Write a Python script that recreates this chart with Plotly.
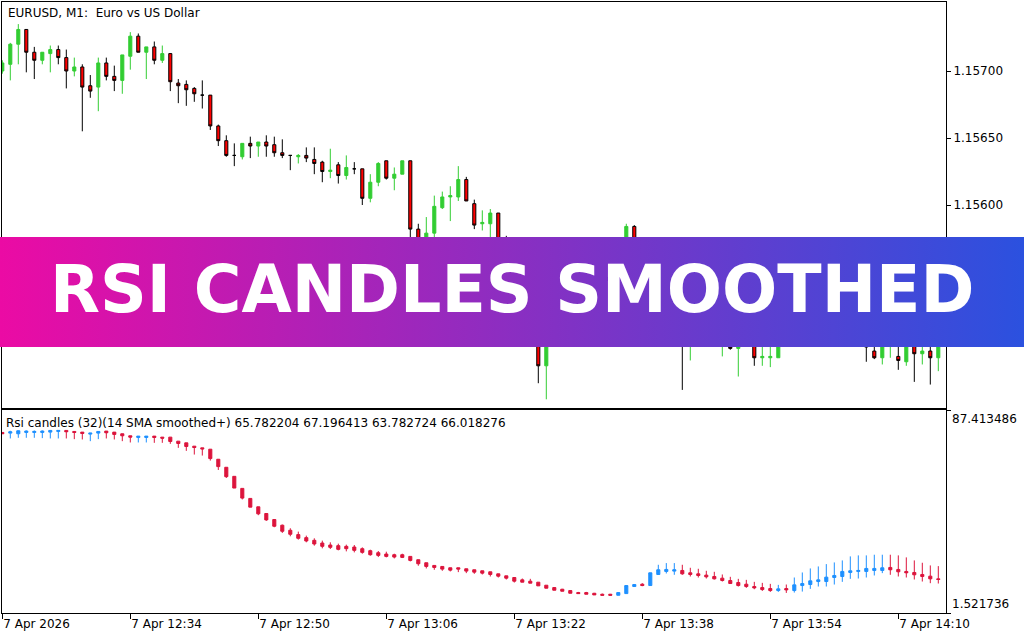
import base64
import pandas as pd
import plotly.graph_objects as go

# ---------------- data ----------------
times = pd.date_range("2026-04-07 12:18", periods=118, freq="min")

price_open = [1.15700, 1.15705, 1.15720, 1.15731, 1.15714, 1.15708, 1.15713, 1.15716, 1.15710, 1.15700,
              1.15703, 1.15689, 1.15688, 1.15706, 1.15696, 1.15693, 1.15711, 1.15726, 1.15714, 1.15718,
              1.15708, 1.15713, 1.15691, 1.15690, 1.15687, 1.15682, 1.15682, 1.15659, 1.15648, 1.15637,
              1.15636, 1.15646, 1.15644, 1.15647, 1.15645, 1.15639, 1.15637, 1.15636, 1.15637, 1.15634,
              1.15632, 1.15625, 1.15630, 1.15622, 1.15627, 1.15627, 1.15605, 1.15617, 1.15633, 1.15620,
              1.15623, 1.15633, 1.15582, 1.15563, 1.15579, 1.15598, 1.15606, 1.15606, 1.15619, 1.15601,
              1.15586, 1.15586, 1.15594, 1.15574, 1.15557, 1.15529, 1.15507, 1.15499, 1.15480, 1.15522,
              1.15537, 1.15528, 1.15545, 1.15552, 1.15546, 1.15558, 1.15563, 1.15556, 1.15568, 1.15584,
              1.15560, 1.15545, 1.15550, 1.15530, 1.15515, 1.15521, 1.15500, 1.15515, 1.15525, 1.15512,
              1.15520, 1.15525, 1.15493, 1.15512, 1.15505, 1.15486, 1.15486, 1.15486, 1.15498, 1.15508,
              1.15516, 1.15510, 1.15525, 1.15535, 1.15522, 1.15538, 1.15528, 1.15540, 1.15520, 1.15491,
              1.15486, 1.15495, 1.15487, 1.15483, 1.15500, 1.15489, 1.15491, 1.15486]
price_high = [1.15708, 1.15721, 1.15735, 1.15731, 1.15718, 1.15714, 1.15719, 1.15719, 1.15716, 1.15710,
              1.15705, 1.15697, 1.15710, 1.15710, 1.15704, 1.15712, 1.15729, 1.15728, 1.15718, 1.15722,
              1.15719, 1.15713, 1.15694, 1.15693, 1.15688, 1.15693, 1.15682, 1.15660, 1.15652, 1.15646,
              1.15646, 1.15651, 1.15647, 1.15652, 1.15651, 1.15649, 1.15637, 1.15638, 1.15643, 1.15643,
              1.15633, 1.15642, 1.15632, 1.15637, 1.15632, 1.15627, 1.15623, 1.15632, 1.15633, 1.15628,
              1.15633, 1.15633, 1.15586, 1.15591, 1.15607, 1.15610, 1.15614, 1.15629, 1.15621, 1.15604,
              1.15596, 1.15597, 1.15594, 1.15577, 1.15560, 1.15533, 1.15512, 1.15507, 1.15529, 1.15540,
              1.15542, 1.15549, 1.15556, 1.15557, 1.15561, 1.15566, 1.15567, 1.15572, 1.15586, 1.15585,
              1.15563, 1.15555, 1.15553, 1.15534, 1.15526, 1.15524, 1.15519, 1.15530, 1.15528, 1.15524,
              1.15533, 1.15528, 1.15516, 1.15515, 1.15508, 1.15497, 1.15496, 1.15502, 1.15512, 1.15524,
              1.15530, 1.15535, 1.15545, 1.15540, 1.15548, 1.15545, 1.15550, 1.15546, 1.15524, 1.15500,
              1.15510, 1.15506, 1.15510, 1.15504, 1.15506, 1.15498, 1.15497, 1.15502]
price_low = [1.15698, 1.15693, 1.15705, 1.15699, 1.15694, 1.15705, 1.15699, 1.15705, 1.15687, 1.15696,
             1.15655, 1.15680, 1.15670, 1.15693, 1.15685, 1.15683, 1.15701, 1.15714, 1.15694, 1.15705,
             1.15706, 1.15685, 1.15676, 1.15674, 1.15677, 1.15672, 1.15656, 1.15644, 1.15636, 1.15629,
             1.15634, 1.15635, 1.15636, 1.15636, 1.15636, 1.15635, 1.15626, 1.15631, 1.15632, 1.15623,
             1.15617, 1.15620, 1.15616, 1.15619, 1.15623, 1.15600, 1.15602, 1.15614, 1.15619, 1.15611,
             1.15623, 1.15570, 1.15557, 1.15557, 1.15574, 1.15597, 1.15588, 1.15603, 1.15603, 1.15582,
             1.15581, 1.15566, 1.15557, 1.15550, 1.15525, 1.15501, 1.15496, 1.15467, 1.15455, 1.15516,
             1.15523, 1.15525, 1.15540, 1.15541, 1.15543, 1.15553, 1.15552, 1.15553, 1.15565, 1.15555,
             1.15541, 1.15538, 1.15526, 1.15510, 1.15508, 1.15462, 1.15484, 1.15505, 1.15508, 1.15503,
             1.15487, 1.15492, 1.15472, 1.15500, 1.15480, 1.15480, 1.15479, 1.15486, 1.15495, 1.15504,
             1.15505, 1.15507, 1.15520, 1.15515, 1.15518, 1.15520, 1.15522, 1.15512, 1.15483, 1.15485,
             1.15481, 1.15486, 1.15477, 1.15480, 1.15468, 1.15481, 1.15466, 1.15476]
price_close = [1.15706, 1.15720, 1.15731, 1.15714, 1.15708, 1.15714, 1.15716, 1.15710, 1.15700, 1.15703,
               1.15688, 1.15685, 1.15706, 1.15696, 1.15693, 1.15712, 1.15726, 1.15714, 1.15718, 1.15708,
               1.15713, 1.15692, 1.15689, 1.15686, 1.15683, 1.15682, 1.15659, 1.15648, 1.15637, 1.15637,
               1.15646, 1.15644, 1.15647, 1.15644, 1.15639, 1.15637, 1.15637, 1.15637, 1.15635, 1.15631,
               1.15625, 1.15626, 1.15622, 1.15628, 1.15627, 1.15605, 1.15617, 1.15631, 1.15620, 1.15623,
               1.15633, 1.15582, 1.15566, 1.15579, 1.15599, 1.15606, 1.15607, 1.15619, 1.15603, 1.15585,
               1.15587, 1.15594, 1.15563, 1.15557, 1.15529, 1.15507, 1.15499, 1.15480, 1.15522, 1.15537,
               1.15528, 1.15545, 1.15552, 1.15546, 1.15558, 1.15563, 1.15556, 1.15568, 1.15584, 1.15560,
               1.15545, 1.15550, 1.15530, 1.15515, 1.15521, 1.15500, 1.15515, 1.15525, 1.15512, 1.15520,
               1.15530, 1.15493, 1.15512, 1.15505, 1.15486, 1.15487, 1.15487, 1.15498, 1.15508, 1.15516,
               1.15510, 1.15525, 1.15535, 1.15522, 1.15538, 1.15528, 1.15540, 1.15520, 1.15494, 1.15486,
               1.15505, 1.15500, 1.15484, 1.15500, 1.15489, 1.15491, 1.15486, 1.15498]

rsi_open = [77.92, 77.63, 77.35, 77.92, 77.92, 77.92, 78.06, 78.34, 78.77, 78.34,
            78.06, 77.21, 77.63, 78.49, 78.06, 77.35, 76.50, 75.79, 75.79, 76.36,
            75.93, 75.93, 74.23, 73.52, 72.11, 71.40, 70.83, 66.58, 63.18, 59.35,
            54.25, 50.00, 46.45, 43.62, 41.07, 38.66, 36.53, 34.69, 33.41, 32.28,
            31.14, 30.29, 30.01, 29.73, 29.44, 28.73, 27.88, 27.03, 26.47, 26.18,
            26.18, 25.47, 24.06, 22.78, 21.65, 21.22, 20.66, 20.66, 20.23, 19.81,
            19.38, 18.95, 18.10, 17.25, 16.54, 15.55, 14.99, 14.56, 13.28, 12.29,
            11.58, 11.02, 10.17, 10.17, 9.88, 9.46, 9.46, 9.03, 9.74, 12.72,
            13.71, 13.14, 17.82, 19.10, 19.24, 19.52, 18.53, 18.10, 17.54, 16.97,
            16.26, 15.27, 14.42, 13.71, 12.72, 12.29, 11.87, 11.02, 11.87, 11.02,
            13.14, 13.57, 14.84, 14.84, 16.54, 16.97, 18.67, 19.10, 19.10, 19.52,
            19.52, 20.80, 19.95, 19.10, 18.67, 17.82, 17.11, 15.98]
rsi_high = [77.92, 78.63, 78.77, 78.77, 78.77, 78.77, 78.77, 78.77, 78.77, 78.49,
            78.06, 77.63, 78.34, 78.49, 78.06, 77.35, 76.50, 76.36, 76.36, 76.36,
            75.93, 75.93, 74.23, 73.52, 72.11, 71.40, 70.83, 66.58, 63.18, 59.35,
            54.25, 50.00, 46.45, 43.62, 41.07, 38.94, 37.38, 35.96, 34.26, 33.13,
            32.14, 31.43, 30.86, 30.44, 30.29, 29.30, 28.31, 27.74, 27.46, 26.61,
            26.61, 25.47, 24.06, 22.78, 21.65, 21.22, 20.66, 20.66, 20.23, 19.81,
            19.38, 18.95, 18.10, 17.25, 16.54, 16.12, 15.98, 14.56, 13.28, 12.29,
            11.73, 11.02, 10.45, 10.45, 10.02, 9.74, 9.60, 10.17, 13.14, 13.57,
            14.14, 18.53, 21.93, 22.64, 22.64, 21.93, 20.66, 20.23, 19.38, 18.95,
            17.82, 16.83, 15.98, 15.55, 14.70, 14.28, 13.85, 13.43, 13.57, 16.54,
            18.67, 20.37, 21.22, 22.21, 22.92, 23.77, 25.47, 25.90, 25.90, 26.18,
            26.18, 26.18, 25.90, 25.05, 23.77, 22.78, 21.65, 21.36]
rsi_low = [77.35, 75.37, 75.65, 75.65, 75.65, 75.51, 75.37, 75.37, 75.37, 75.08,
           74.94, 74.23, 75.08, 75.37, 74.94, 74.23, 73.67, 73.67, 73.67, 73.52,
           73.52, 73.10, 71.40, 70.12, 68.56, 68.14, 66.01, 62.04, 58.64, 54.39,
           49.57, 46.31, 42.91, 40.50, 37.81, 35.40, 33.98, 32.56, 31.43, 30.01,
           28.88, 28.59, 28.03, 27.60, 27.18, 26.61, 25.76, 25.19, 25.05, 24.62,
           24.77, 23.35, 21.51, 20.37, 19.81, 19.38, 19.10, 18.81, 18.39, 18.10,
           17.82, 16.97, 16.54, 15.69, 14.42, 14.56, 14.14, 13.00, 12.01, 11.16,
           10.73, 9.88, 9.74, 9.46, 9.17, 9.03, 9.03, 9.03, 9.74, 12.72,
           12.86, 13.14, 17.82, 18.25, 17.68, 17.68, 16.97, 16.54, 16.12, 15.69,
           14.84, 13.99, 12.72, 12.15, 11.58, 10.87, 10.45, 10.45, 10.02, 10.17,
           10.59, 11.73, 12.72, 12.72, 13.57, 14.70, 15.98, 16.12, 16.54, 17.40,
           18.39, 17.68, 16.97, 16.54, 15.69, 14.84, 14.14, 13.99]
rsi_close = [77.35, 78.20, 78.63, 78.49, 78.34, 78.49, 78.77, 78.77, 78.20, 77.92,
             77.49, 77.63, 78.34, 77.78, 77.07, 76.50, 75.93, 76.36, 76.36, 75.79,
             75.51, 74.09, 73.24, 71.97, 71.54, 70.97, 66.86, 63.46, 59.21, 54.39,
             50.14, 46.31, 43.48, 40.92, 38.23, 36.10, 34.83, 33.13, 31.99, 30.72,
             29.73, 29.30, 28.45, 28.73, 28.03, 27.18, 26.18, 25.90, 25.47, 25.19,
             25.05, 23.77, 22.36, 21.22, 20.80, 20.09, 19.66, 20.09, 19.24, 18.81,
             18.39, 17.82, 17.11, 16.26, 14.99, 14.56, 14.14, 13.00, 12.01, 11.16,
             10.73, 9.88, 9.74, 9.46, 9.17, 9.03, 9.03, 10.17, 13.14, 13.57,
             13.14, 18.53, 19.81, 19.95, 19.81, 18.10, 17.82, 17.40, 16.83, 15.98,
             15.27, 13.99, 13.14, 12.72, 12.15, 11.44, 11.02, 11.73, 11.30, 13.43,
             13.99, 15.13, 15.55, 16.69, 17.40, 19.10, 19.38, 19.52, 20.37, 20.37,
             20.66, 19.81, 18.95, 18.53, 17.68, 16.97, 15.98, 15.69]

price_ticks = [1.15700, 1.15650, 1.15600]
price_tick_text = ["1.15700", "1.15650", "1.15600"]
price_range = [1.1544851, 1.1575149]
rsi_range = [1.521736, 87.413486]
rsi_range_text = ["1.521736", "87.413486"]
time_ticks = ["2026-04-07 12:18", "2026-04-07 12:34", "2026-04-07 12:50", "2026-04-07 13:06",
              "2026-04-07 13:22", "2026-04-07 13:38", "2026-04-07 13:54", "2026-04-07 14:10"]
time_tick_text = ["7 Apr 2026", "7 Apr 12:34", "7 Apr 12:50", "7 Apr 13:06",
                  "7 Apr 13:22", "7 Apr 13:38", "7 Apr 13:54", "7 Apr 14:10"]

chart_title = "EURUSD, M1:\u00a0 Euro vs US Dollar"
indicator_title = "Rsi candles (32)(14 SMA smoothed+) 65.782204 67.196413 63.782724 66.018276"
banner_text = "RSI CANDLES SMOOTHED"

# ---------------- figure ----------------
W, H = 1024, 640
ML, MR, MT, MB = 2, 78, 2, 27
PW, PH = W - ML - MR, H - MT - MB


def px_x(p):
    return (p - ML) / PW


def px_y(p):
    return (H - MB - p) / PH


x_left = times[0] - pd.Timedelta(seconds=2.25)
x_right = times[0] + pd.Timedelta(minutes=117.9625)

fig = go.Figure()
fig.add_trace(go.Candlestick(
    x=times, open=price_open, high=price_high, low=price_low, close=price_close,
    xaxis="x", yaxis="y", whiskerwidth=0, showlegend=False, hoverinfo="skip",
    increasing=dict(line=dict(color="#32CD32", width=1), fillcolor="#32CD32"),
    decreasing=dict(line=dict(color="#000000", width=1), fillcolor="#FF0000"),
))
fig.add_trace(go.Candlestick(
    x=times, open=rsi_open, high=rsi_high, low=rsi_low, close=rsi_close,
    xaxis="x2", yaxis="y2", whiskerwidth=0, showlegend=False, hoverinfo="skip",
    increasing=dict(line=dict(color="#1E90FF", width=1), fillcolor="#1E90FF"),
    decreasing=dict(line=dict(color="#DC143C", width=1), fillcolor="#DC143C"),
))

axis_common = dict(showline=True, mirror=True, linecolor="black", linewidth=1,
                   showgrid=False, zeroline=False, tickcolor="black")

fig.update_layout(
    width=W, height=H,
    margin=dict(l=ML, r=MR, t=MT, b=MB, pad=0),
    paper_bgcolor="white", plot_bgcolor="white",
    showlegend=False, boxgap=0.45, hovermode=False,
    font=dict(family="DejaVu Sans", size=12, color="black"),
    xaxis=dict(domain=[0, 1], anchor="y", range=[x_left, x_right], showticklabels=False,
               ticks="", rangeslider=dict(visible=False), **axis_common),
    yaxis=dict(domain=[px_y(408), 1], anchor="x", side="right", range=price_range,
               tickmode="array", tickvals=price_ticks, ticktext=price_tick_text,
               ticks="outside", ticklen=4, **axis_common),
    xaxis2=dict(domain=[0, 1], anchor="y2", range=[x_left, x_right],
                tickmode="array", tickvals=time_ticks, ticktext=time_tick_text,
                ticks="outside", ticklen=5, ticklabelposition="outside right",
                rangeslider=dict(visible=False), **axis_common),
    yaxis2=dict(domain=[0, px_y(410)], anchor="x2", side="right", range=rsi_range,
                tickmode="array", tickvals=rsi_range, showticklabels=False,
                ticks="outside", ticklen=4, **axis_common),
)

# gradient banner (decoration)
svg = ('<svg xmlns="http://www.w3.org/2000/svg" width="1024" height="110" viewBox="0 0 1024 110" '
       'preserveAspectRatio="none"><defs><linearGradient id="g" x1="0" y1="0" x2="1" y2="0">'
       '<stop offset="0" stop-color="#EB0BA4"/><stop offset="1" stop-color="#2B51DF"/>'
       '</linearGradient></defs><rect width="1024" height="110" fill="url(#g)"/></svg>')
src = "data:image/svg+xml;base64," + base64.b64encode(svg.encode()).decode()
fig.add_layout_image(dict(source=src, xref="paper", yref="paper",
                          x=px_x(0), y=px_y(237), sizex=W / PW, sizey=110 / PH,
                          xanchor="left", yanchor="top", sizing="stretch", layer="above"))

ann_font = dict(family="DejaVu Sans", size=12, color="black")
fig.add_annotation(text=chart_title, xref="paper", yref="paper", x=px_x(6), y=px_y(13),
                   xanchor="left", yanchor="middle", showarrow=False, font=ann_font)
fig.add_annotation(text=indicator_title, xref="paper", yref="paper", x=px_x(4), y=px_y(423),
                   xanchor="left", yanchor="middle", showarrow=False, font=ann_font)
fig.add_annotation(text=rsi_range_text[1], xref="paper", yref="y2", x=px_x(950), y=rsi_range[1],
                   xanchor="left", yanchor="top", showarrow=False, font=ann_font)
fig.add_annotation(text=rsi_range_text[0], xref="paper", yref="y2", x=px_x(950), y=rsi_range[0],
                   xanchor="left", yanchor="bottom", showarrow=False, font=ann_font)
fig.add_annotation(text="<b>" + banner_text + "</b>", xref="paper", yref="paper",
                   x=px_x(511.5), y=px_y(290), xanchor="center", yanchor="middle",
                   showarrow=False, font=dict(family="DejaVu Sans", size=65, color="white"))

fig.write_html("out.html", config={"displayModeBar": False},
               post_script="document.body.style.margin='0';")
